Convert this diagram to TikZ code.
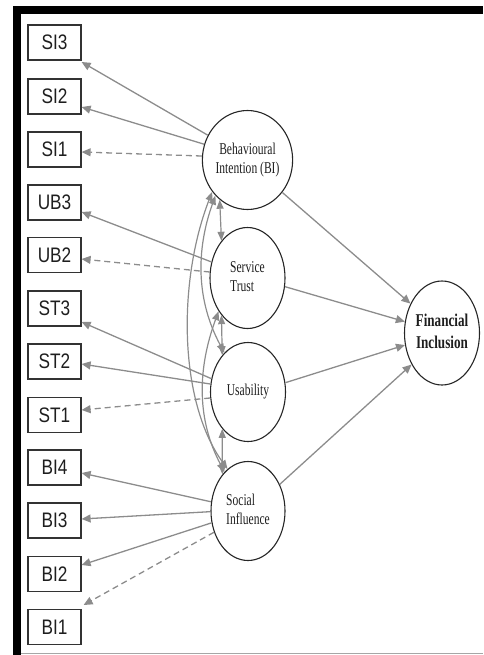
\documentclass[tikz,border=0pt]{standalone}
\usepackage{fontspec}
\usepackage{graphicx}
\setmainfont{Liberation Serif}
\newfontfamily\labelsans{Liberation Sans}
\usetikzlibrary{arrows.meta,shapes.geometric,calc}

\definecolor{linkgray}{HTML}{8C8C8C}
\definecolor{boxline}{HTML}{333333}
\definecolor{textdark}{HTML}{1E1E1E}

% horizontally condensed text
\newcommand\hsq[2]{\scalebox{#1}[1]{#2}}

\begin{document}
\begin{tikzpicture}[x=1pt,y=-1pt,
  indicator/.style={draw=boxline, line width=1.2pt, minimum width=53pt,
    minimum height=35pt, inner sep=0pt, text=textdark,
    font=\labelsans\fontsize{21}{21}\selectfont},
  latent/.style={ellipse, draw=black!85, line width=1.1pt, inner sep=0pt,
    fill=white, text=textdark, font=\fontsize{16.5}{19}\selectfont},
  load/.style={draw=linkgray, line width=1.3pt,
    -{Triangle[length=9pt,width=8pt]}},
  fixed/.style={load, dash pattern=on 6pt off 4pt},
  cov/.style={draw=linkgray, line width=1.2pt,
    {Triangle[length=9pt,width=7pt]}-{Triangle[length=9pt,width=7pt]}}
]
\useasboundingbox (0,0) rectangle (483,655);

% frame
\fill[black] (13,6) rectangle (483,14);
\fill[black] (13,6) rectangle (21,655);
\draw[gray!70, line width=1pt] (21,653.5) -- (483,653.5);

% indicator boxes
\node[indicator] (SI3) at (54.5,42.5)  {\hsq{0.82}{SI3}};
\node[indicator] (SI2) at (54.5,96.5)  {\hsq{0.82}{SI2}};
\node[indicator] (SI1) at (54.5,149.5) {\hsq{0.82}{SI1}};
\node[indicator] (UB3) at (54.5,202.5) {\hsq{0.82}{UB3}};
\node[indicator] (UB2) at (54.5,255)   {\hsq{0.82}{UB2}};
\node[indicator] (ST3) at (54.5,308.5) {\hsq{0.82}{ST3}};
\node[indicator] (ST2) at (54.5,361.5) {\hsq{0.82}{ST2}};
\node[indicator] (ST1) at (54.5,415)   {\hsq{0.82}{ST1}};
\node[indicator] (BI4) at (54.5,467.5) {\hsq{0.82}{BI4}};
\node[indicator] (BI3) at (54.5,520.5) {\hsq{0.82}{BI3}};
\node[indicator] (BI2) at (54.5,574)   {\hsq{0.82}{BI2}};
\node[indicator] (BI1) at (54.5,627)   {\hsq{0.82}{BI1}};

% latent constructs
\node[latent, minimum width=71pt, minimum height=99pt] (BI) at (247.5,160)
  {\hsq{0.7}{\begin{tabular}{@{}c@{}}Behavioural\\Intention (BI)\end{tabular}}};
\node[latent, minimum width=75pt, minimum height=101pt] (ST) at (247.5,278)
  {\hsq{0.7}{\begin{tabular}{@{}l@{}}Service\\Trust\end{tabular}}};
\node[latent, minimum width=75pt, minimum height=99pt] (US) at (248,392)
  {\hsq{0.7}{Usability}};
\node[latent, minimum width=74pt, minimum height=99pt] (SO) at (248,511)
  {\hsq{0.7}{\begin{tabular}{@{}l@{}}Social\\Influence\end{tabular}}};
\node[latent, minimum width=75pt, minimum height=104pt,
  font=\bfseries\fontsize{18}{22}\selectfont] (FI) at (442,333)
  {\hsq{0.73}{\begin{tabular}{@{}c@{}}Financial\\Inclusion\end{tabular}}};

% loadings
\draw[load]  (BI.148) -- ($(SI3.east)+(0,19.5)$);
\draw[load]  (BI.160) -- ($(SI2.east)+(0,10.5)$);
\draw[fixed] (BI.175) -- ($(SI1.east)+(0,2.5)$);
\draw[load]  (ST.156) -- ($(UB3.east)+(0,9.5)$);
\draw[fixed] (ST.171) -- ($(UB2.east)+(0,4)$);
\draw[load]  (US.160) -- ($(ST3.east)+(0,13.5)$);
\draw[load]  (US.168) -- ($(ST2.east)+(0,2.5)$);
\draw[fixed] (US.189) -- ($(ST1.east)+(0,-5)$);
\draw[load]  (SO.166) -- ($(BI4.east)+(0,5.5)$);
\draw[load]  (SO.181) -- ($(BI3.east)+(0,-1.5)$);
\draw[load]  (SO.198) -- ($(BI2.east)+(0,-9)$);
\draw[fixed] (SO.212) -- ($(BI1.east)+(2,-22)$);

% structural paths
\draw[load] (BI.-43) -- (FI.137);
\draw[load] (ST.-13) -- (FI.163);
\draw[load] (US.14)  -- (FI.198);
\draw[load] (SO.40)  -- (FI.226);

% covariances
\draw[cov] (BI.235) -- (ST.125);
\draw[cov] (ST.235) -- (US.125);
\draw[cov] (US.235) -- (SO.125);
\draw[cov] (BI.228) .. controls (196,250) and (196,300) .. (US.121);
\draw[cov] (ST.229) .. controls (197,370) and (197,420) .. (SO.121);
\draw[cov] (BI.222) .. controls (178,280) and (178,400) .. (SO.116);
\end{tikzpicture}
\end{document}
